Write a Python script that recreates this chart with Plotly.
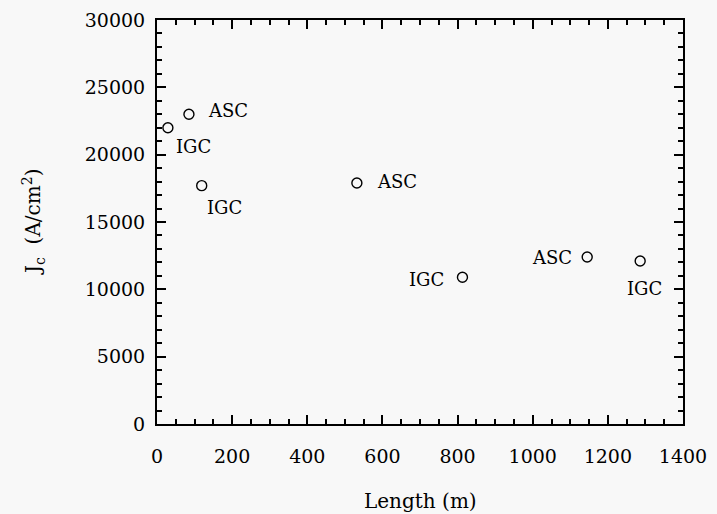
import plotly.graph_objects as go

# Data
lengths = [29, 85, 119, 532, 813, 1145, 1286]
jc_values = [22000, 23000, 17700, 17900, 10900, 12400, 12100]
labels = ["IGC", "ASC", "IGC", "ASC", "IGC", "ASC", "IGC"]

x_ticks = [0, 200, 400, 600, 800, 1000, 1200, 1400]
y_ticks = [0, 5000, 10000, 15000, 20000, 25000, 30000]

# label offsets in pixels (style only)
label_offsets = [(26, -19), (39, 4), (23, -22), (40, 1), (-36, -2), (-35, 0), (4, -27)]

FONT = "DejaVu Serif"
BG = "#f8f8f8"

fig = go.Figure()
fig.add_trace(go.Scatter(
    x=lengths, y=jc_values, mode="markers",
    marker=dict(symbol="circle-open", size=10, color="black", line=dict(width=1.4, color="black")),
    showlegend=False, hoverinfo="skip",
))

for xv, yv, lab, (dx, dy) in zip(lengths, jc_values, labels, label_offsets):
    fig.add_annotation(x=xv, y=yv, xref="x", yref="y", text=lab, showarrow=False,
                       xshift=dx, yshift=dy, xanchor="center", yanchor="middle",
                       font=dict(family=FONT, size=18, color="black"))

fig.add_annotation(x=0.5, y=-0.19, xref="paper", yref="paper", text="Length (m)",
                   showarrow=False, xanchor="center", yanchor="middle",
                   font=dict(family=FONT, size=20, color="black"))
fig.add_annotation(x=(33 - 157) / 526, y=0.5, xref="paper", yref="paper",
                   text="J<sub>c</sub>  (A/cm<sup>2</sup>)", textangle=-90,
                   showarrow=False, xanchor="center", yanchor="middle",
                   font=dict(family=FONT, size=20, color="black"))

axis_common = dict(
    showgrid=False, zeroline=False, showline=True, linecolor="black", linewidth=2,
    mirror="allticks", ticks="inside", ticklen=9, tickwidth=2, tickcolor="black",
    tickfont=dict(family=FONT, size=19, color="black"), automargin=False,
)

fig.update_xaxes(range=[0, 1400], tickvals=x_ticks, ticktext=[str(v) for v in x_ticks],
                 ticklabelstandoff=14,
                 minor=dict(dtick=50, ticks="inside", ticklen=5, tickwidth=1.5, tickcolor="black"),
                 **axis_common)
fig.update_yaxes(range=[0, 30000], tickvals=y_ticks, ticktext=[str(v) for v in y_ticks],
                 ticklabelstandoff=6,
                 minor=dict(dtick=1000, ticks="inside", ticklen=5, tickwidth=1.5, tickcolor="black"),
                 **axis_common)

# page body has an 8px margin; size the figure so the plot lands where the reference has it
fig.update_layout(
    width=709, height=506,
    margin=dict(l=149, r=34, t=12, b=90),
    paper_bgcolor=BG, plot_bgcolor=BG,
    font=dict(family=FONT, color="black"),
)

fig.write_html("out.html", post_script="document.body.style.background='%s';" % BG)
